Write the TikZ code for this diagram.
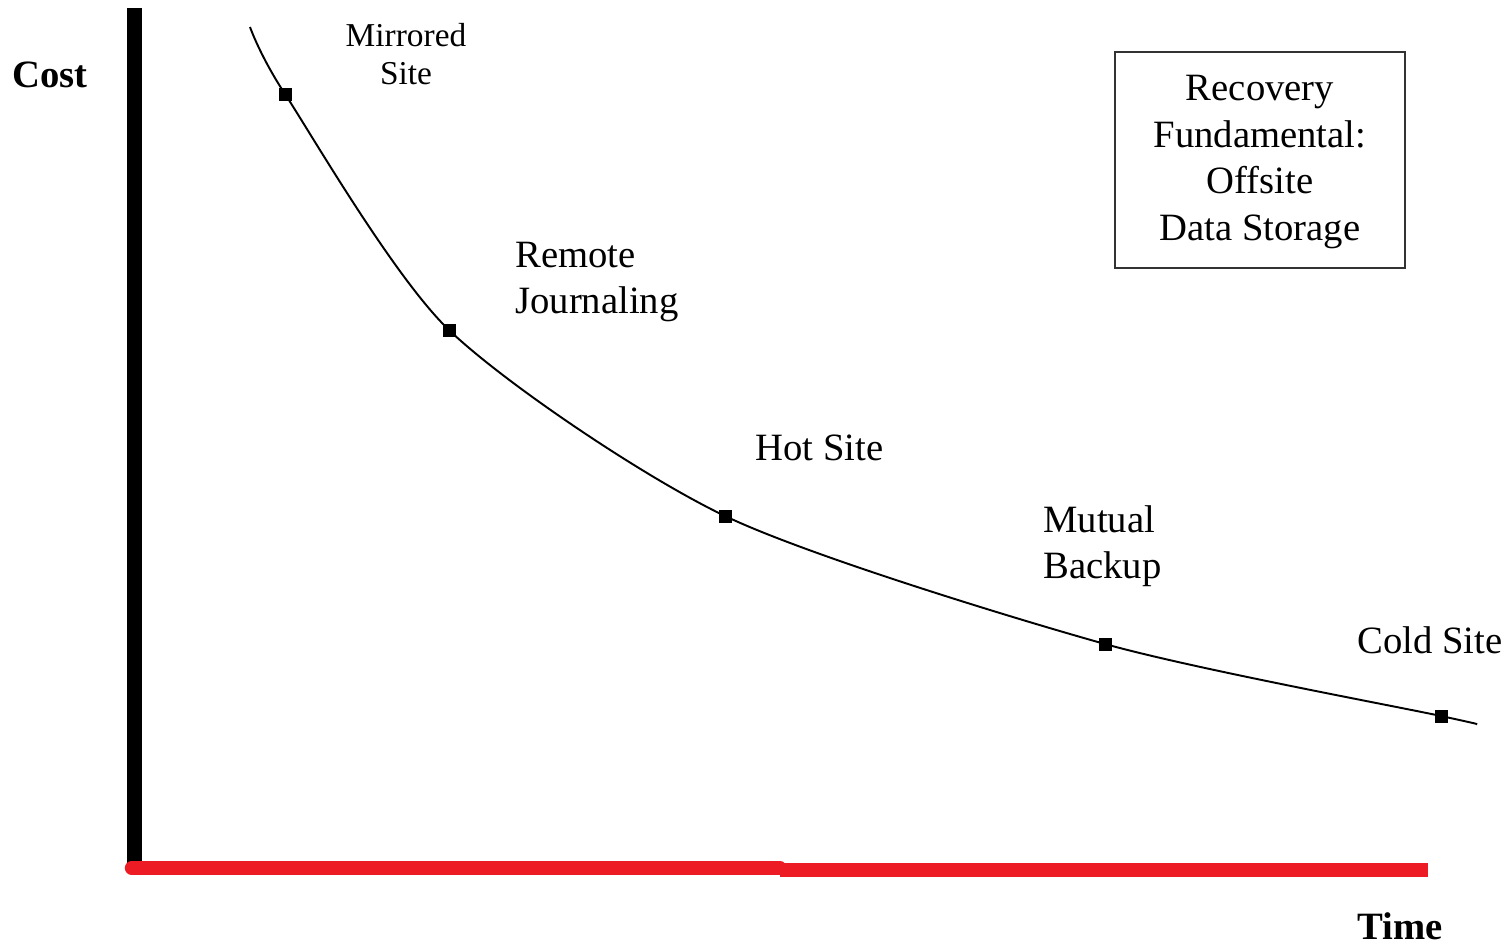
\documentclass[tikz,border=0pt]{standalone}
\usepackage{fontspec}
\setmainfont{Liberation Serif}
\usepackage{xcolor}
\usepackage{tikz}
\usetikzlibrary{positioning, calc}
\definecolor{axisred}{RGB}{237,28,36}

\begin{document}
\begin{tikzpicture}[x=0.2mm, y=-0.2mm,
    every node/.style={font=\fontsize{22}{26.5}\selectfont, inner sep=0pt},
    site/.style={align=left, anchor=west},
    marker/.style={fill=black, minimum size=2.6mm}]
  \useasboundingbox (0,0) rectangle (1509,948);

  % Axes: black cost axis, red time axis (two slightly offset strokes)
  \coordinate (top) at (134.5,8);
  \coordinate (origin) at (134.5,868);
  \coordinate (mid) at (780,868);
  \coordinate (mid2) at (780,870);
  \coordinate (tend) at (1428,870);
  \draw[line width=8.5pt] (top) -- (origin);
  \draw[axisred, line width=7.6pt, line cap=round] ($(origin)+(-3,0)$) -- (mid);
  \draw[axisred, line width=7.6pt] (mid2) -- (tend);

  \node[font=\fontsize{22}{26.5}\selectfont\bfseries] (cost) at (50,75) {Cost};
  \node[font=\fontsize{22}{26.5}\selectfont\bfseries] (time) at (1400,926) {Time};

  % Cost/time curve through the recovery options
  \coordinate (start) at (250,27);
  \coordinate (mirror) at (285,94);
  \coordinate (remote) at (449,330);
  \coordinate (hot) at (725,516);
  \coordinate (mutual) at (1105,644);
  \coordinate (cold) at (1441,716);
  \coordinate (finish) at (1476,724);
  \draw[line width=1.1pt] plot[smooth, tension=0.45]
    coordinates {(start) (mirror) (remote) (hot) (mutual) (cold) (finish)};
  \foreach \p in {mirror, remote, hot, mutual, cold}
    \node[marker] (\p-mark) at (\p) {};

  % Labels
  \node[font=\fontsize{19}{21.5}\selectfont, align=center] (mirror-lbl) at (406,54)
    {Mirrored\\Site};
  \node[site] (remote-lbl) at (515,282) {Remote\\Journaling};
  \node[site] (hot-lbl) at (755,448) {Hot Site};
  \node[site] (mutual-lbl) at (1043,546) {Mutual\\Backup};
  \node[site] (cold-lbl) at (1357,640) {Cold Site};

  % Note box
  \node[draw=black!80, line width=1.2pt, align=center, minimum width=58mm,
        minimum height=43.2mm] (note) at (1260,160) {};
  \node[align=center] (note-text) at (1260,162)
    {Recovery\\Fundamental:\\Offsite\\Data Storage};
\end{tikzpicture}
\end{document}
